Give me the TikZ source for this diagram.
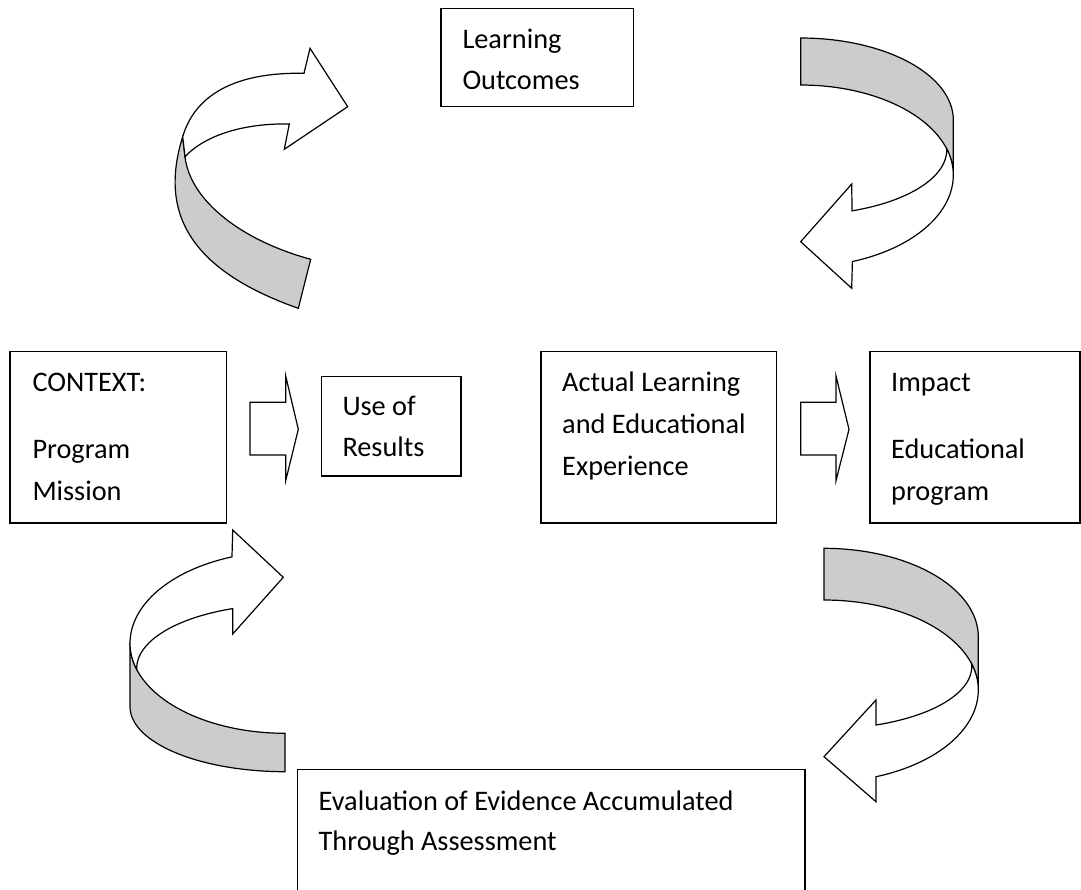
\documentclass[tikz,border=0pt]{standalone}
\usepackage{fontspec}
\setmainfont{Carlito}
\usetikzlibrary{fit}
\definecolor{ribbon}{RGB}{204,204,204}
\begin{document}
\begin{tikzpicture}[x=1pt,y=-1pt,
  box/.style={draw=black, line width=1.5pt, inner sep=0pt},
  txt/.style={anchor=base west, inner sep=0pt, font=\fontsize{28.3pt}{34pt}\selectfont},
  shp/.style={draw=black, line width=1.2pt, line join=miter},
  back/.style={shp, fill=ribbon},
  front/.style={shp, fill=white},
  pl/.style={domain=#1, samples=40, variable=\t}
]
\useasboundingbox (0,0) rectangle (1081,890);
\clip (0,0) rectangle (1081,890);

% ---------- boxes ----------
\node[box, fit={(441,8.3) (633.3,106.7)}] (lo) {};
\node[box, fit={(10,351.7) (226.7,523)}] (ctx) {};
\node[box, fit={(321.7,376.7) (461,476)}] (use) {};
\node[box, fit={(541,351.7) (776.7,523)}] (act) {};
\node[box, fit={(870,351.7) (1080,523)}] (imp) {};
\node[box, fit={(297.3,769.3) (805,905)}] (eva) {};

% ---------- texts ----------
\node[txt] (lo1) at (462.3,48.3) {Learning};
\node[txt] (lo2) at (462.3,90) {Outcomes};
\node[txt] (c1) at (32.3,391.7) {CONTEXT:};
\node[txt] (c2) at (32.3,458.3) {Program};
\node[txt] (c3) at (32.3,500) {Mission};
\node[txt] (u1) at (342.3,415) {Use of};
\node[txt] (u2) at (342.3,456.7) {Results};
\node[txt] (a1) at (562,391.7) {Actual Learning};
\node[txt] (a2) at (562,433.4) {and Educational};
\node[txt] (a3) at (562,475) {Experience};
\node[txt] (i1) at (891,391.7) {Impact};
\node[txt] (i2) at (891,458.3) {Educational};
\node[txt] (i3) at (891,500) {program};
\node[txt] (e1) at (318.5,810) {Evaluation of Evidence Accumulated};
\node[txt] (e2) at (318.5,850) {Through Assessment};

% ---------- straight block arrows ----------
\draw[shp] (250,402.3) -- (285.7,402.3) -- (285.7,376) -- (298.3,429.3)
  -- (285.7,480.7) -- (285.7,455) -- (250,455) -- cycle;
\draw[shp] (800.7,402.3) -- (836,402.3) -- (836,376) -- (849,429.3)
  -- (836,480.7) -- (836,455) -- (800.7,455) -- cycle;

% ---------- top-left curved arrow ----------
\draw[back] (182.7,136.7) .. controls (163,200) and (175,265) .. (298.3,308.3)
  -- (310.7,259.3) .. controls (240,240) and (190,200) .. (185,156.7) -- cycle;
\draw[front] (182.7,136.7) .. controls (195,95) and (235,72) .. (304,73.3)
  -- (310,48.3) -- (347.7,106.7) -- (284.3,149.3) -- (289.3,124)
  .. controls (245,123) and (205,135) .. (185,156.7) -- cycle;

% ---------- top-right curved arrow ----------
\draw[back] plot[pl=-90:0] ({800.7+152.6*cos(\t)},{120+82*sin(\t)})
  -- (953.3,175)
  -- plot[pl=0:-90] ({800.7+152.6*cos(\t)},{175+90*sin(\t)}) -- cycle;
\draw[front] plot[pl=0:70.2] ({800.7+152.6*cos(\t)},{175+92*sin(\t)})
  -- (851.7,288.3) -- (800.7,241.7) -- (851.7,184)
  -- plot[pl=69.4:0] ({800.7+146*cos(\t)},{150+65*sin(\t)})
  -- plot[pl=-16.5:0] ({800.7+152.6*cos(\t)},{175+90*sin(\t)}) -- cycle;

% ---------- bottom-left curved arrow ----------
\draw[back] (130,643.3) -- (130,706.7)
  -- plot[pl=180:90] ({285+155*cos(\t)},{706.7+65*sin(\t)})
  -- (285,733.3)
  -- plot[pl=90:180] ({285+155*cos(\t)},{643.3+90*sin(\t)}) -- cycle;
\draw[front] plot[pl=180:250] ({285+155*cos(\t)},{643.3+92*sin(\t)})
  -- (232.7,530) -- (283.3,577.3) -- (232.7,634)
  -- plot[pl=249.4:180] ({285+148.3*cos(\t)},{668.3+63.8*sin(\t)})
  -- plot[pl=163.2:180] ({285+155*cos(\t)},{643.3+90*sin(\t)}) -- cycle;

% ---------- bottom-right curved arrow ----------
\draw[back] plot[pl=-90:0] ({824+154.3*cos(\t)},{636.7+88.4*sin(\t)})
  -- (978.3,690)
  -- plot[pl=0:-90] ({824+154.3*cos(\t)},{690+90*sin(\t)}) -- cycle;
\draw[front] plot[pl=0:70.3] ({824+154.3*cos(\t)},{690+92.1*sin(\t)})
  -- (876,801.7) -- (824,756.7) -- (876,700)
  -- plot[pl=69.4:0] ({824+147.7*cos(\t)},{666.7+62.3*sin(\t)})
  -- plot[pl=-16.8:0] ({824+154.3*cos(\t)},{690+90*sin(\t)}) -- cycle;
\end{tikzpicture}
\end{document}
